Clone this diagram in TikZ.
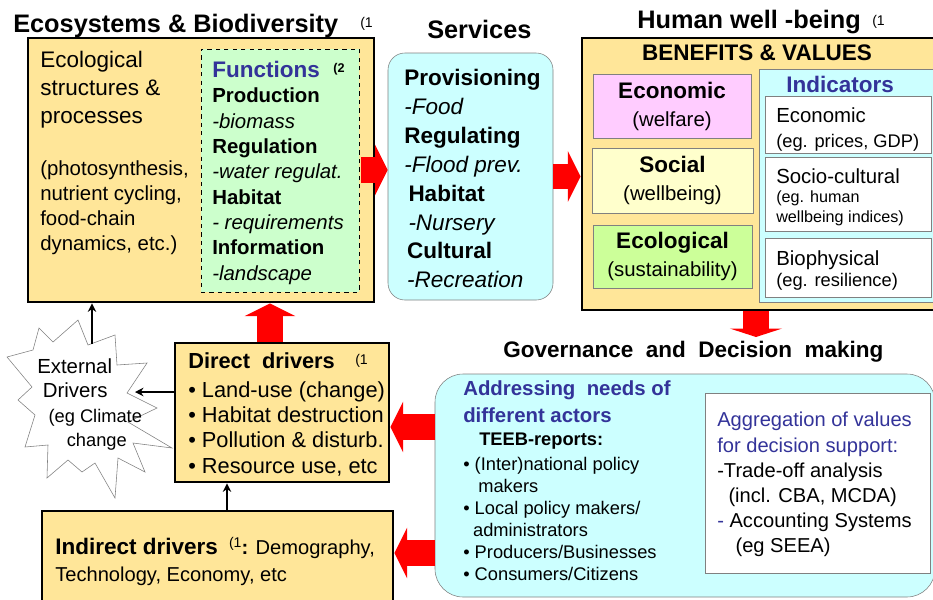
\documentclass[tikz,border=0pt]{standalone}
\usepackage{fontspec}
\setmainfont{Liberation Sans}
\usetikzlibrary{positioning,fit,arrows.meta}
\definecolor{ecoorange}{RGB}{255,230,153}
\definecolor{lcyan}{RGB}{204,255,255}
\definecolor{lgreen}{RGB}{204,255,204}
\definecolor{lpink}{RGB}{255,204,255}
\definecolor{lyellow}{RGB}{255,255,204}
\definecolor{egreen}{RGB}{204,255,153}
\definecolor{tblue}{RGB}{51,51,153}
\newcommand{\fsz}[2]{\fontsize{#1}{#2}\selectfont}
\tikzset{>=Stealth}
\tikzset{
  mainbox/.style={draw,line width=2pt,fill=ecoorange,inner sep=0pt},
  subbox/.style={draw=gray,line width=0.6pt,inner sep=0pt},
  txt/.style={anchor=north west,align=left,inner sep=0pt},
  lbl/.style={anchor=base west,inner sep=0pt},
  redarr/.style={red,line width=18pt,-{Triangle[length=9pt,width=36pt,line width=0pt]}},
  thinarr/.style={line width=1.5pt,-{Stealth[length=6pt,width=6pt]}}
}
\begin{document}
\begin{tikzpicture}[x=0.025cm,y=-0.025cm]
\useasboundingbox (0,0) rectangle (933,599);
\node[lbl,font=\fsz{18}{20}\bfseries] (ttleco) at (13,32) {Ecosystems \& Biodiversity};
\node[lbl,font=\fsz{10}{12}] at (360,27) {(1};
\node[lbl,font=\fsz{18}{20}\bfseries] (ttlsrv) at (427,38) {Services};
\node[lbl,font=\fsz{18}{20}\bfseries] (ttlhw) at (637,28) {Human well -being};
\node[lbl,font=\fsz{10}{12}] at (872,25) {(1};
\node[lbl,font=\fsz{16}{18}\bfseries] (ttlgov) at (503,357) {Governance~ and~ Decision~ making};

\node[mainbox,fit={(28,38) (374,302)}] (eco) {};
\node[txt,font=\fsz{16}{19.9}] (ecotxt) at (40,51) {Ecological\\structures \&\\processes};
\node[txt,font=\fsz{14.5}{17.8}] (ecoproc) at (40,160) {(photosynthesis,\\nutrient cycling,\\food-chain\\dynamics, etc.)};
\node[draw,dashed,fill=lgreen,inner sep=0pt,fit={(201,49) (359,292)}] (fn) {};
\node[txt,font=\fsz{14.5}{18}] (fntxt) at (212,61) {{\fsz{16}{18}\bfseries\color{tblue}Functions}\\
  \textbf{Production}\\\textit{-biomass}\\\textbf{Regulation}\\\textit{-water regulat.}\\
  \textbf{Habitat}\\\textit{- requirements}\\\textbf{Information}\\\textit{-landscape}};
\node[lbl,font=\fsz{9}{10}\bfseries] at (333,72) {(2};

\node[draw=gray,fill=lcyan,rounded corners=12pt,inner sep=0pt,fit={(388,53) (553,300)}] (srv) {};
\node[txt,font=\fsz{16}{20.6}] (srvtxt) at (404,68.6) {\textbf{Provisioning}\\\textit{-Food}\\\textbf{Regulating}\\
  \textit{-Flood prev.}\\\hspace*{3pt}\textbf{Habitat}\\\hspace*{3pt}\textit{-Nursery}\\
  \hspace*{2pt}\textbf{Cultural}\\\hspace*{2pt}\textit{-Recreation}};

\node[mainbox,fit={(582,38) (940,310)}] (hw) {};
\node[anchor=base,inner sep=0pt,font=\fsz{16}{18}\bfseries] (bv) at (757,60) {BENEFITS \& VALUES};
\node[subbox,fill=lpink,fit={(593,74) (751,138)}] (econ) {};
\node[align=center,font=\fsz{14.5}{19.9}] at (econ) {{\fsz{16}{19.9}\bfseries Economic}\\(welfare)};
\node[subbox,fill=lyellow,fit={(592,148) (753,213)}] (soc) {};
\node[align=center,font=\fsz{14.5}{19.9}] at (soc) {{\fsz{16}{19.9}\bfseries Social}\\(wellbeing)};
\node[subbox,fill=egreen,fit={(593,225) (752,288)}] (ecol) {};
\node[align=center,font=\fsz{14.5}{19.9}] at (ecol) {{\fsz{16}{19.9}\bfseries Ecological}\\(sustainability)};
\node[subbox,fill=lcyan,fit={(759,69) (945,302)}] (ind) {};
\node[anchor=base,inner sep=0pt,font=\fsz{16}{18}\bfseries,text=tblue] at (840,92) {Indicators};
\node[subbox,fill=white,fit={(765,96) (931,153)}] (ieco) {};
\node[txt,font=\fsz{14.5}{17.8}] at (776,107) {Economic\\{\fsz{13}{15}(eg. prices, GDP)}};
\node[subbox,fill=white,fit={(765,157) (931,231)}] (isoc) {};
\node[txt,font=\fsz{14.5}{14}] at (776,168) {Socio-cultural\\{\fsz{11.5}{13}(eg. human}\\{\fsz{11.5}{13}wellbeing indices)}};
\node[subbox,fill=white,fit={(765,238) (931,297)}] (ibio) {};
\node[txt,font=\fsz{14.5}{15.6}] at (776,250) {Biophysical\\{\fsz{13}{15}(eg. resilience)}};

\node[draw=gray,fill=lcyan,rounded corners=20pt,inner sep=0pt,fit={(435,374) (935,597)}] (gov) {};
\node[txt,font=\fsz{14.5}{19.2}\bfseries,text=tblue] (act) at (463,380) {Addressing~ needs of\\different actors};
\node[lbl,font=\fsz{13}{15}\bfseries] (teeb) at (479,445) {TEEB-reports:};
\node[txt,font=\fsz{13}{15.7}] (users) at (463,456.7) {• (Inter)national policy\\\hspace*{10.7pt}makers\\
  • Local policy makers/\\\hspace*{7pt}administrators\\• Producers/Businesses\\• Consumers/Citizens};
\node[subbox,fill=white,fit={(705,393) (930,573)}] (agg) {};
\node[txt,font=\fsz{14.3}{17.9}] (aggtxt) at (717,412) {{\color{tblue}Aggregation of values}\\{\color{tblue}for decision support:}\\
  -Trade-off analysis\\\hspace*{8pt}(incl. CBA, MCDA)\\{\color{tblue}-} Accounting Systems\\\hspace*{13pt}(eg SEEA)};

\node[mainbox,fit={(175,343) (389,482)}] (dd) {};
\node[lbl,font=\fsz{15.5}{18}\bfseries] at (188,368) {Direct~ drivers};
\node[lbl,font=\fsz{10}{12}] at (355,364) {(1};
\node[txt,font=\fsz{15.5}{18}] (ddtxt) at (188,381) {• Land-use (change)\\• Habitat destruction\\• Pollution \& disturb.\\• Resource use, etc};

\node[mainbox,fit={(42,511) (393,620)}] (idd) {};
\node[txt,font=\fsz{14.3}{19.2}] (iddtxt) at (55,536.6) {{\fsz{16}{19.2}\bfseries Indirect drivers}~ \raisebox{5pt}{\fsz{10}{12}(1}\textbf{:} Demography,\\Technology, Economy, etc};

\draw[gray,fill=white] (7,357) -- (33,350) -- (39,328) -- (53,342) -- (78,320) -- (88,345) -- (115,335)
  -- (117,365) -- (147,363) -- (127,393) -- (157,408) -- (128,422) -- (172,448) -- (133,443)
  -- (145,472) -- (118,458) -- (115,498) -- (95,463) -- (82,472) -- (68,460) -- (47,478)
  -- (48,445) -- (25,447) -- (35,415) -- (18,400) -- (32,387) -- cycle;
\node[txt,font=\fsz{14.5}{17.5}] (ext) at (37,358) {External\\\hspace*{4pt}Drivers\\
  \hspace*{8pt}{\fsz{13}{15}(eg Climate}\\\hspace*{21pt}{\fsz{13}{15}change}};

\coordinate (extR) at (135,392);
\coordinate (extT) at (92,344);
\coordinate (up) at (270,0);
\coordinate (dn) at (756,337);
\coordinate (i1) at (227,0);
\coordinate (e1) at (361,170);
\coordinate (g1) at (435,427);
\coordinate (g2) at (435,553);
\draw[redarr] (e1) -- (e1 -| srv.west);
\draw[redarr] (srv.east) -- (srv.east -| hw.west);
\draw[redarr,-{Triangle[length=6pt,width=37pt,line width=0pt]}] (dn |- hw.south) -- (dn);
\draw[redarr] (g1) -- (g1 -| dd.east);
\draw[redarr] (g2) -- (g2 -| idd.east);
\draw[redarr] (up |- dd.north) -- (up |- eco.south);
\draw[thinarr] (dd.west |- extR) -- (extR);
\draw[thinarr] (extT) -- (extT |- eco.south);
\draw[thinarr] (i1 |- idd.north) -- (i1 |- dd.south);
\end{tikzpicture}
\end{document}
